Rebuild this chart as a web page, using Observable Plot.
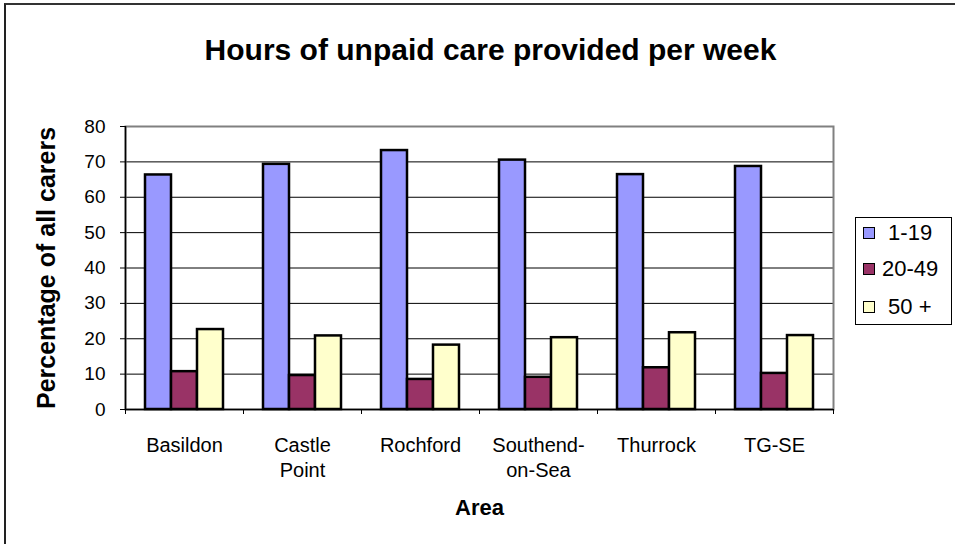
<!DOCTYPE html>
<html>
<head>
<meta charset="utf-8">
<script src="https://cdn.jsdelivr.net/npm/d3@7"></script>
<script src="https://cdn.jsdelivr.net/npm/@observablehq/plot@0.6"></script>
<style>
  html, body { margin: 0; padding: 0; background: #fff; }
  #wrap { position: relative; width: 955px; height: 544px; overflow: hidden; font-family: "Liberation Sans", Arial, sans-serif; }
  #border { position: absolute; left: 4px; top: 3px; width: 1200px; height: 800px; border-left: 2px solid #222; border-top: 2px solid #333; box-sizing: border-box; pointer-events: none; }
  #legend { position: absolute; left: 855px; top: 217px; width: 97px; height: 108px; border: 1px solid #000; box-sizing: border-box; background: #fff; }
  .item { position: absolute; left: 7px; display: flex; align-items: center; font-size: 22px; line-height: 24px; color: #000; }
  .sw { width: 10px; height: 10px; border: 1.5px solid #000; margin-right: 7px; }
</style>
</head>
<body>
<div id="wrap">
  <div id="chart"></div>
  <div id="legend"></div>
  <div id="border"></div>
</div>
<script>
const areas = ["Basildon", "Castle Point", "Rochford", "Southend-on-Sea", "Thurrock", "TG-SE"];
const areaLabels = ["Basildon", "Castle\nPoint", "Rochford", "Southend-\non-Sea", "Thurrock", "TG-SE"];
const series = ["1-19", "20-49", "50 +"];
const legendLabels = [" 1-19", "20-49", " 50 +"];
const hours1to19 = [66.3, 69.3, 73.2, 70.5, 66.4, 68.7];
const hours20to49 = [10.7, 9.6, 8.5, 9.1, 11.8, 10.2];
const hours50plus = [22.6, 20.8, 18.2, 20.3, 21.7, 20.9];
const seriesColors = ["#9999FF", "#993366", "#FFFFCC"];
const yTicks = [0, 10, 20, 30, 40, 50, 60, 70, 80];

const W = 955, H = 544;
const mL = 125, mR = 122, mT = 126, mB = 135;
const band = (W - mL - mR) / areas.length;
const groupW = band * 0.661;
const pad = (band - groupW) / 2;
const bw = groupW / 3;

const valuesBySeries = [hours1to19, hours20to49, hours50plus];
const rows = series.map((s, i) => areas.map((a, j) => ({area: a, series: s, value: valuesBySeries[i][j]})));

const font = "Liberation Sans, Arial, sans-serif";

const barMarks = rows.map((r, i) => Plot.barY(r, {
  x: "area", y: "value", fill: "series",
  stroke: "black", strokeWidth: 2.5,
  insetLeft: pad + i * bw, insetRight: pad + (2 - i) * bw
}));

const chart = Plot.plot({
  width: W, height: H,
  marginLeft: mL, marginRight: mR, marginTop: mT, marginBottom: mB,
  style: {fontFamily: font, background: "transparent", color: "black"},
  x: {type: "band", domain: areas, padding: 0, axis: null},
  y: {domain: [0, 80], axis: null},
  color: {domain: series, range: seriesColors},
  marks: [
    Plot.ruleY(yTicks, {stroke: "black", strokeWidth: 1}),
    Plot.frame({stroke: "#808080", strokeWidth: 2}),
    ...barMarks,
    Plot.ruleY([0], {stroke: "black", strokeWidth: 1.5}),
    Plot.ruleX([areas[0]], {dx: -band / 2, y1: 0, y2: 80, stroke: "black", strokeWidth: 1.5}),
    Plot.ruleX(areas, {x: d => d, dx: -band / 2, y1: 0, y2: 0, insetBottom: -5, stroke: "black"}),
    Plot.ruleX([areas[areas.length - 1]], {dx: band / 2, y1: 0, y2: 0, insetBottom: -5, stroke: "black"}),
    Plot.axisY({ticks: yTicks, tickSize: 5, tickPadding: 15, fontSize: 19, label: null}),
    Plot.axisX({tickSize: 0, tickPadding: 25, fontSize: 20, lineHeight: 1.25, label: null,
      tickFormat: d => areaLabels[areas.indexOf(d)]}),
    Plot.text(["Hours of unpaid care provided per week"], {frameAnchor: "top", lineAnchor: "middle", textAnchor: "middle", dx: 11, dy: -76, fontSize: 30, fontWeight: "bold"}),
    Plot.text(["Percentage of all carers"], {frameAnchor: "left", lineAnchor: "middle", textAnchor: "middle", rotate: -90, dx: -79, fontSize: 25, fontWeight: "bold"}),
    Plot.text(["Area"], {frameAnchor: "bottom", lineAnchor: "middle", textAnchor: "middle", dy: 98, fontSize: 22, fontWeight: "bold"})
  ]
});
document.getElementById("chart").appendChild(chart);

const legend = document.getElementById("legend");
const rowCenters = [15, 51, 89];
series.forEach((s, i) => {
  const item = document.createElement("div");
  item.className = "item";
  item.style.top = (rowCenters[i] - 12) + "px";
  const sw = document.createElement("div");
  sw.className = "sw";
  sw.style.background = seriesColors[i];
  const label = document.createElement("span");
  label.style.whiteSpace = "pre";
  label.textContent = legendLabels[i];
  item.appendChild(sw);
  item.appendChild(label);
  legend.appendChild(item);
});
</script>
</body>
</html>
